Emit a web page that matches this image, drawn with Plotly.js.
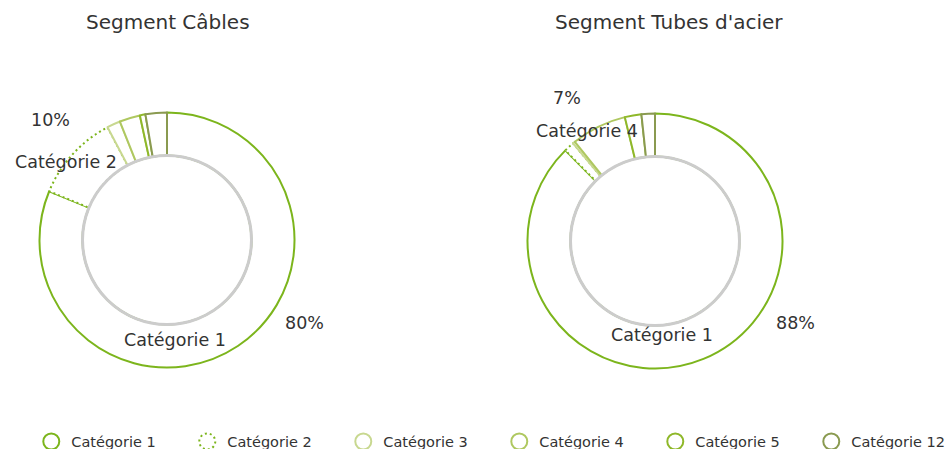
<!DOCTYPE html>
<html>
<head>
<meta charset="utf-8">
<script src="https://cdn.plot.ly/plotly-3.0.1.min.js"></script>
<style>
  html, body { margin: 0; padding: 0; background: #fff; }
  #chart { width: 948px; height: 449px; }
</style>
</head>
<body>
<div id="chart"></div>
<script>
'use strict';

// data
const categories = ['Catégorie 1', 'Catégorie 2', 'Catégorie 3', 'Catégorie 4', 'Catégorie 5', 'Catégorie 12'];
const cablesValues = [81.0, 11.0, 1.7, 2.6, 0.7, 2.7];
const tubesValues = [87.5, 1.3, 0.3, 7.0, 2.1, 1.7];
const cablesLabels = ['80%', '10%'];
const tubesLabels = ['88%', '7%'];
const colors = ['#7cb51c', '#7cb51c', '#c8d890', '#afc860', '#8fb82a', '#8a9a50'];

const W = 948, H = 449;
const font = '"DejaVu Sans", sans-serif';
const textColor = '#333333';

// donut geometry (px)
const R = 127.5, RH = 84.5;
const leftC = { x: 167, y: 240 };
const rightC = { x: 655, y: 241 };

function domainOf(c) {
  return {
    x: [(c.x - R) / W, (c.x + R) / W],
    y: [(H - c.y - R) / H, (H - c.y + R) / H]
  };
}

function pieTrace(values, c) {
  return {
    type: 'pie',
    labels: categories,
    values: values,
    sort: false,
    direction: 'clockwise',
    rotation: 0,
    hole: RH / R,
    domain: domainOf(c),
    textinfo: 'none',
    hoverinfo: 'label+percent',
    showlegend: false,
    marker: {
      colors: categories.map(() => 'rgba(255,255,255,1)'),
      line: { color: colors, width: 2 }
    }
  };
}

const data = [pieTrace(cablesValues, leftC), pieTrace(tubesValues, rightC)];

// legend entries as open rings
categories.forEach((name, i) => {
  data.push({
    type: 'scatter',
    mode: 'markers',
    x: [null], y: [null],
    name: name,
    hoverinfo: 'skip',
    marker: {
      symbol: 'circle-open',
      size: 16,
      color: colors[i],
      line: { width: 2, color: colors[i] }
    }
  });
});

function ann(text, px, py, size) {
  return {
    text: text,
    xref: 'paper', yref: 'paper',
    x: px / W, y: 1 - py / H,
    xanchor: 'center', yanchor: 'middle',
    showarrow: false,
    font: { family: font, size: size || 17.5, color: textColor }
  };
}

function ring(c) {
  return {
    type: 'circle', xref: 'paper', yref: 'paper', layer: 'above',
    x0: (c.x - RH) / W, x1: (c.x + RH) / W,
    y0: (H - c.y - RH) / H, y1: (H - c.y + RH) / H,
    line: { color: '#cccccc', width: 3 }
  };
}

const layout = {
  width: W,
  height: H,
  margin: { t: 0, l: 0, r: 0, b: 0, autoexpand: false },
  paper_bgcolor: '#fff',
  plot_bgcolor: '#fff',
  font: { family: font, color: textColor },
  xaxis: { visible: false },
  yaxis: { visible: false },
  showlegend: true,
  legend: {
    orientation: 'h',
    x: 0.033, xanchor: 'left',
    y: -0.019, yanchor: 'bottom',
    entrywidth: 111,
    itemwidth: 30,
    font: { family: font, size: 14.5, color: textColor },
    bgcolor: 'rgba(0,0,0,0)'
  },
  shapes: [ring(leftC), ring(rightC)],
  annotations: [
    ann('Segment Câbles', 168, 22, 20),
    ann("Segment Tubes d'acier", 669, 22, 20),
    ann(cablesLabels[1], 50, 120),
    ann(categories[1], 66, 162),
    ann(categories[0], 175, 340),
    ann(cablesLabels[0], 304, 323),
    ann(tubesLabels[1], 567, 98),
    ann(categories[3], 587, 131),
    ann(categories[0], 662, 335),
    ann(tubesLabels[0], 795, 323)
  ]
};

Plotly.newPlot('chart', data, layout, { displayModeBar: false, staticPlot: true }).then(() => {
  // dotted outline for Catégorie 2
  document.querySelectorAll('.pielayer .trace').forEach(tr => {
    const paths = tr.querySelectorAll('.slice path.surface');
    if (paths[1]) paths[1].style.strokeDasharray = '2,3';
  });
  document.querySelectorAll('.legend .traces').forEach((t, i) => {
    if (i === 1) {
      const p = t.querySelector('path.scatterpts');
      if (p) p.style.strokeDasharray = '2,3';
    }
  });
});
</script>
</body>
</html>
